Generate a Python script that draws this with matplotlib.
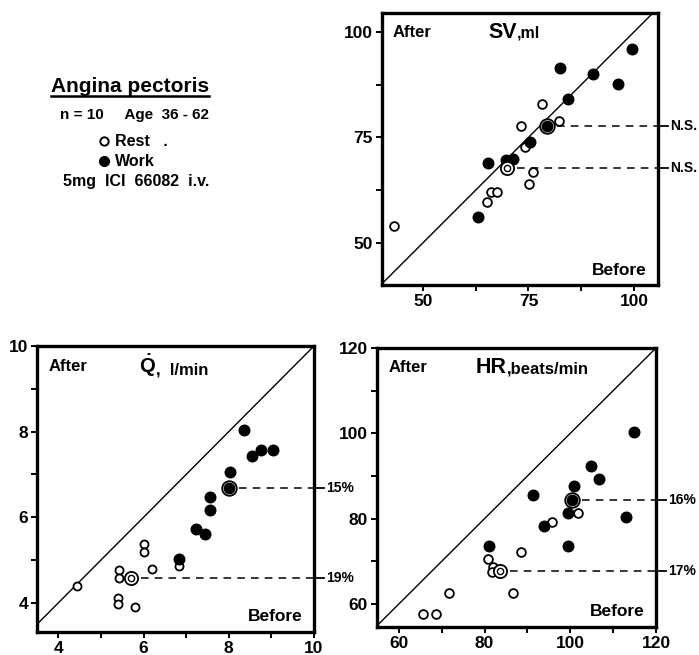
import matplotlib
matplotlib.use("Agg")
import matplotlib.pyplot as plt
from matplotlib.lines import Line2D
from matplotlib.ticker import MultipleLocator

plt.rcParams["mathtext.fontset"] = "custom"
plt.rcParams["mathtext.rm"] = "Liberation Sans:bold"
plt.rcParams["mathtext.bf"] = "Liberation Sans:bold"

# ---------------- data ----------------
# Stroke volume (ml): Before (x) vs After (y)
sv_rest_before = [43.2, 78.1, 82.2, 73.2, 74.1, 76.1, 75.1, 66.1, 67.5, 65.1]
sv_rest_after = [54.1, 82.9, 78.9, 77.8, 72.7, 66.8, 63.9, 62.1, 62.1, 59.8]
sv_work_before = [99.6, 82.5, 90.4, 96.2, 84.4, 75.3, 69.7, 71.4, 65.5, 63.0]
sv_work_after = [95.9, 91.4, 90.0, 87.6, 84.1, 73.9, 69.7, 69.8, 69.0, 56.1]
sv_rest_mean = (70.0, 67.7)
sv_work_mean = (79.5, 77.7)
sv_labels = ["N.S.", "N.S."]  # work, rest

# Cardiac output (l/min)
q_rest_before = [4.44, 6.02, 6.02, 5.43, 5.43, 5.40, 5.40, 6.21, 6.83, 5.79]
q_rest_after = [4.39, 5.37, 5.19, 4.77, 4.59, 4.12, 3.97, 4.80, 4.87, 3.91]
q_work_before = [8.36, 8.55, 8.75, 9.04, 8.04, 7.55, 7.55, 7.24, 7.44, 6.84]
q_work_after = [8.04, 7.43, 7.56, 7.58, 7.05, 6.47, 6.17, 5.73, 5.61, 5.02]
q_rest_mean = (5.71, 4.59)
q_work_mean = (8.01, 6.68)
q_labels = ["15%", "19%"]

# Heart rate (beats/min)
hr_rest_before = [101.9, 95.7, 88.6, 80.7, 82.0, 81.8, 71.8, 86.7, 65.7, 68.6]
hr_rest_after = [81.3, 79.2, 72.2, 70.5, 68.7, 67.4, 62.6, 62.6, 57.7, 57.7]
hr_work_before = [114.8, 104.9, 106.8, 100.8, 91.2, 99.4, 112.9, 93.9, 99.4, 81.0]
hr_work_after = [100.4, 92.4, 89.2, 87.6, 85.5, 81.4, 80.4, 78.3, 73.6, 73.6]
hr_rest_mean = (83.6, 67.8)
hr_work_mean = (100.4, 84.3)
hr_labels = ["16%", "17%"]

BOLD = dict(fontweight="bold", family=["Liberation Sans", "DejaVu Sans"])

fig = plt.figure(figsize=(6.99, 6.55), dpi=100)
W, H = 699.0, 655.0


def axes_px(left, right, top, bottom):
    return fig.add_axes([left / W, 1 - bottom / H, (right - left) / W, (bottom - top) / H])


def style_axes(ax, xlim, ylim, minor, xticks, yticks):
    ax.set_xlim(*xlim)
    ax.set_ylim(*ylim)
    for s in ax.spines.values():
        s.set_linewidth(2.4)
    ax.set_xticks(xticks)
    ax.set_yticks(yticks)
    ax.xaxis.set_minor_locator(MultipleLocator(minor))
    ax.yaxis.set_minor_locator(MultipleLocator(minor))
    ax.tick_params(which="both", direction="out", length=4.5, width=1.4,
                   top=False, right=False, pad=2)
    for lab in ax.get_xticklabels() + ax.get_yticklabels():
        lab.set_fontsize(12.5)
        lab.set_fontweight("bold")
        lab.set_family(["Liberation Sans", "DejaVu Sans"])
    lo = min(xlim[0], ylim[0])
    hi = max(xlim[1], ylim[1])
    ax.plot([lo, hi], [lo, hi], color="black", lw=1.0)


def draw_points(ax, rb, ra, wb, wa, rmean, wmean, labels, ms_open=6.3, ms_fill=7.6):
    ax.plot(rb, ra, "o", mfc="white", mec="black", mew=1.3, ms=ms_open, zorder=3)
    ax.plot(wb, wa, "o", mfc="black", mec="black", ms=ms_fill, zorder=3)
    # mean markers (ringed)
    ax.plot([rmean[0]], [rmean[1]], "o", mfc="white", mec="black", mew=1.3, ms=9.5, zorder=4)
    ax.plot([rmean[0]], [rmean[1]], "o", mfc="white", mec="black", mew=1.0, ms=4.5, zorder=5)
    ax.plot([wmean[0]], [wmean[1]], "o", mfc="white", mec="black", mew=1.3, ms=10.5, zorder=4)
    ax.plot([wmean[0]], [wmean[1]], "o", mfc="black", mec="black", ms=7.5, zorder=5)
    xlo, xhi = ax.get_xlim()
    tr = ax.get_yaxis_transform()
    for (mx, my), lab in zip([wmean, rmean], labels):
        xs = (mx - xlo) / (xhi - xlo) + 0.035
        ax.plot([xs, 1.0], [my, my], transform=tr, color="black", lw=1.1,
                dashes=(5, 4), clip_on=False)
        ax.plot([1.012, 1.035], [my, my], transform=tr, color="black", lw=1.3,
                clip_on=False)
        ax.text(1.045, my, lab, transform=tr, va="center", ha="left",
                fontsize=10, **BOLD)


def titles(ax, big, small, tx, big_size=15.5, small_size=11.5):
    ax.text(0.04, 0.93, "After", transform=ax.transAxes, fontsize=12,
            va="center", ha="left", **BOLD)
    t = ax.text(tx, 0.93, big, transform=ax.transAxes, fontsize=big_size,
                va="center", ha="left", **BOLD)
    ax.annotate(small, xy=(1.0, 0.08), xycoords=t, fontsize=small_size,
                va="bottom", ha="left", **BOLD)
    ax.text(0.96, 0.055, "Before", transform=ax.transAxes, fontsize=12.5,
            va="center", ha="right", **BOLD)


# ---- SV panel (top right)
ax1 = axes_px(382, 658, 13, 285)
style_axes(ax1, (40.3, 105.7), (40.0, 104.5), 12.5, [50, 75, 100], [50, 75, 100])
draw_points(ax1, sv_rest_before, sv_rest_after, sv_work_before, sv_work_after,
            sv_rest_mean, sv_work_mean, sv_labels)
titles(ax1, "SV", ",ml", 0.385)

# ---- Q panel (bottom left)
ax2 = axes_px(37, 314, 346, 632)
style_axes(ax2, (3.5, 10.0), (3.32, 10.0), 1, [4, 6, 8, 10], [4, 6, 8, 10])
draw_points(ax2, q_rest_before, q_rest_after, q_work_before, q_work_after,
            q_rest_mean, q_work_mean, q_labels, ms_open=5.8)
titles(ax2, r"$\dot{\mathbf{Q}}$", ",  l/min", 0.37, big_size=14.5, small_size=12)

# ---- HR panel (bottom right)
ax3 = axes_px(377, 656, 348, 627)
style_axes(ax3, (54.9, 120.0), (54.6, 120.0), 10, [60, 80, 100, 120], [60, 80, 100, 120])
draw_points(ax3, hr_rest_before, hr_rest_after, hr_work_before, hr_work_after,
            hr_rest_mean, hr_work_mean, hr_labels)
titles(ax3, "HR", ",beats/min", 0.355, big_size=15.5, small_size=12)

# ---- legend / info block
t_title = fig.text(130 / W, 1 - 86 / H, "Angina pectoris", ha="center", va="center",
                   fontsize=15, **BOLD)
fig.text(135 / W, 1 - 115 / H, "n = 10     Age  36 - 62", ha="center", va="center",
         fontsize=11, **BOLD)
fig.add_artist(Line2D([104 / W], [1 - 141 / H], marker="o", mfc="white", mec="black",
                      mew=1.4, ms=6.0, transform=fig.transFigure))
fig.text(115 / W, 1 - 141 / H, "Rest   .", ha="left", va="center", fontsize=11.5, **BOLD)
fig.add_artist(Line2D([104 / W], [1 - 161 / H], marker="o", mfc="black", mec="black",
                      ms=7.0, transform=fig.transFigure))
fig.text(115 / W, 1 - 161 / H, "Work", ha="left", va="center", fontsize=11.5, **BOLD)
fig.text(63 / W, 1 - 182 / H, "5mg  ICI  66082  i.v.", ha="left", va="center",
         fontsize=11.5, **BOLD)

# underline the title
fig.canvas.draw()
bb = t_title.get_window_extent().transformed(fig.transFigure.inverted())
fig.add_artist(Line2D([bb.x0, bb.x1], [bb.y0 - 0.001, bb.y0 - 0.001], color="black",
                      lw=1.8, transform=fig.transFigure))

fig.savefig("out.png", dpi=100)
